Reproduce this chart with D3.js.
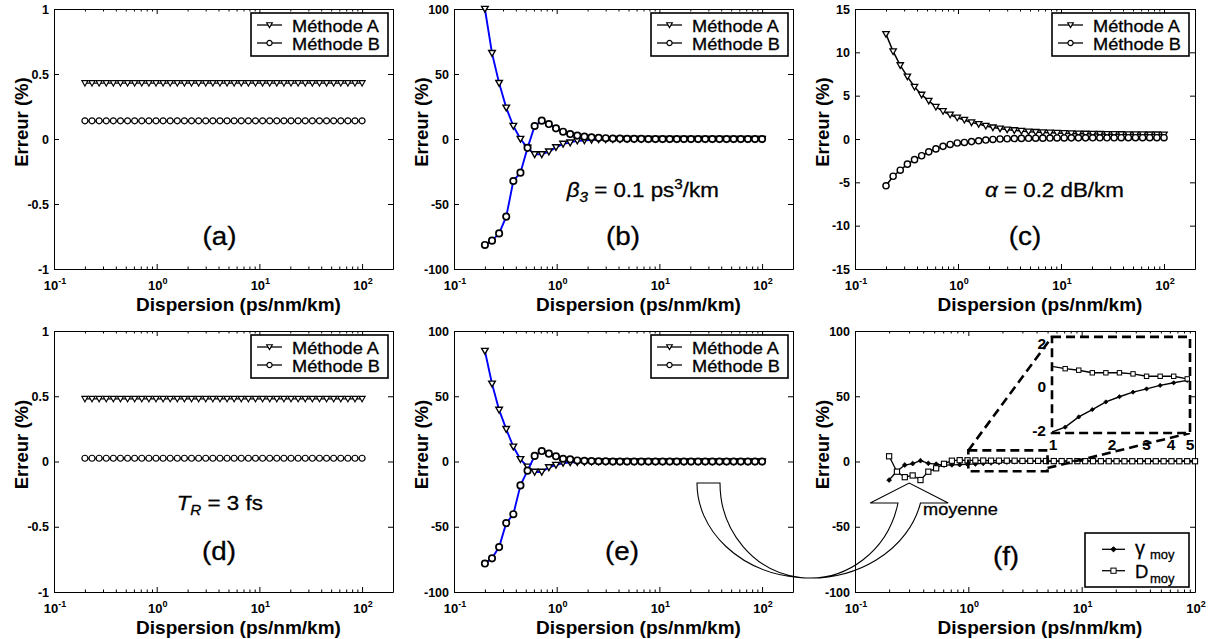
<!DOCTYPE html>
<html><head><meta charset="utf-8">
<script src="https://cdn.jsdelivr.net/npm/d3@7"></script>
<style>
body{margin:0;background:#fff}
svg{display:block;background:#fff}
text{font-family:"Liberation Sans",Arial,Helvetica,sans-serif}
</style>
</head><body>
<svg id="c" width="1211" height="639"></svg>
<script>
// ---------- DATA ----------
const dispersion = [0.2, 0.2345, 0.275, 0.3226, 0.3783, 0.4436, 0.5202, 0.6101, 0.7155, 0.8391,
  0.984, 1.154, 1.353, 1.587, 1.861, 2.183, 2.56, 3.002, 3.521, 4.129,
  4.842, 5.678, 6.659, 7.81, 9.159, 10.74, 12.6, 14.77, 17.33, 20.32,
  23.83, 27.95, 32.78, 38.44, 45.08, 52.87, 62.0, 72.71, 85.27, 100];

const aMethodeA = [0.43,0.43,0.43,0.43,0.43,0.43,0.43,0.43,0.43,0.43,0.43,0.43,0.43,0.43,0.43,0.43,0.43,0.43,0.43,0.43,
  0.43,0.43,0.43,0.43,0.43,0.43,0.43,0.43,0.43,0.43,0.43,0.43,0.43,0.43,0.43,0.43,0.43,0.43,0.43,0.43];
const aMethodeB = [0.14,0.14,0.14,0.14,0.14,0.14,0.14,0.14,0.14,0.14,0.14,0.14,0.14,0.14,0.14,0.14,0.14,0.14,0.14,0.14,
  0.14,0.14,0.14,0.14,0.14,0.14,0.14,0.14,0.14,0.14,0.14,0.14,0.14,0.14,0.14,0.14,0.14,0.14,0.14,0.14];

const bMethodeA = [100, 66, 43, 24, 10, 0, -6.8, -11.8, -11.8, -9.7, -6.4, -3.8, -2.8, -1.3, -1.1, -0.7, -0.4, -0.3, -0.2, -0.1,
  0,0,0,0,0,0,0,0,0,0,0,0,0,0,0,0,0,0,0,0];
const bMethodeB = [-81.5, -78.2, -72.6, -59.7, -32.3, -25.9, -6.8, 10, 14.1, 11.5, 8.2, 5.6, 3.8, 2.6, 1.8, 1.3, 0.9, 0.6, 0.4, 0.3,
  0.2, 0.1, 0.1, 0,0,0,0,0,0,0,0,0,0,0,0,0,0,0,0,0];

const cMethodeA = [12.1, 10.1, 8.5, 7.2, 6.0, 5.1, 4.4, 3.7, 3.2, 2.8, 2.45, 2.2, 1.9, 1.72, 1.5, 1.32, 1.2, 1.08, 1.0, 0.92,
  0.85, 0.8, 0.76, 0.72, 0.69, 0.66, 0.64, 0.62, 0.6, 0.58, 0.57, 0.56, 0.55, 0.54, 0.53, 0.52, 0.52, 0.51, 0.51, 0.5];
const cMethodeB = [-5.4, -4.3, -3.6, -2.9, -2.38, -1.93, -1.48, -1.14, -0.85, -0.63, -0.46, -0.4, -0.3, -0.21, -0.12, -0.05, 0, 0.03, 0.05, 0.07,
  0.08, 0.09, 0.1, 0.11, 0.12, 0.12, 0.13, 0.13, 0.13, 0.14, 0.14, 0.14, 0.14, 0.15, 0.15, 0.15, 0.15, 0.15, 0.15, 0.15];

const dMethodeA = [0.48,0.48,0.48,0.48,0.48,0.48,0.48,0.48,0.48,0.48,0.48,0.48,0.48,0.48,0.48,0.48,0.48,0.48,0.48,0.48,
  0.48,0.48,0.48,0.48,0.48,0.48,0.48,0.48,0.48,0.48,0.48,0.48,0.48,0.48,0.48,0.48,0.48,0.48,0.48,0.48];
const dMethodeB = [0.025,0.025,0.025,0.025,0.025,0.025,0.025,0.025,0.025,0.025,0.025,0.025,0.025,0.025,0.025,0.025,0.025,0.025,0.025,0.025,
  0.025,0.025,0.025,0.025,0.025,0.025,0.025,0.025,0.025,0.025,0.025,0.025,0.025,0.025,0.025,0.025,0.025,0.025,0.025,0.025];

const eMethodeA = [84.7, 59.6, 39.5, 24.8, 11.3, 1.7, -4, -8, -8, -4.5, -2.7, -1.2, -0.8, -0.5, -0.3, -0.2, -0.1, 0, 0, 0,
  0,0,0,0,0,0,0,0,0,0,0,0,0,0,0,0,0,0,0,0];
const eMethodeB = [-78.2, -74.2, -65.6, -47.2, -40.4, -18.3, -7, 4.3, 8, 6, 4, 2.1, 1.7, 0.8, 0.5, 0.3, 0.2, 0.1, 0, 0,
  0,0,0,0,0,0,0,0,0,0,0,0,0,0,0,0,0,0,0,0];

const fGammaMoy = [-14.2, -7.5, -2.7, -1.6, 0.6, -1.4, -2, -2.8, -2.6, -2.4, -2.1, -1.87, -1.4, -1.06, -0.71, -0.47, -0.26, -0.11, 0.05, 0.17,
  0.28, 0.34, 0.38, 0.41, 0.43, 0.45, 0.46, 0.47, 0.48, 0.48, 0.49, 0.49, 0.5, 0.5, 0.5, 0.5, 0.5, 0.5, 0.5, 0.5];
const fDMoy = [4, -7.8, -12, -10.7, -14.2, -7.8, -5.2, -1.8, 0.6, 1.0, 0.93, 0.82, 0.75, 0.63, 0.63, 0.63, 0.58, 0.47, 0.47, 0.47,
  0.35, 0.32, 0.3, 0.28, 0.26, 0.25, 0.24, 0.23, 0.22, 0.21, 0.2, 0.2, 0.2, 0.2, 0.2, 0.2, 0.2, 0.2, 0.2, 0.2];

const xTickExponents = [-1, 0, 1, 2];
const xTickExpLabels = ["-1", "0", "1", "2"];
const yTicksUnit = [-1, -0.5, 0, 0.5, 1];
const yLabelsUnit = ["-1", "-0.5", "0", "0.5", "1"];
const yTicksHundred = [-100, -50, 0, 50, 100];
const yLabelsHundred = ["-100", "-50", "0", "50", "100"];
const yTicksFifteen = [-15, -10, -5, 0, 5, 10, 15];
const yLabelsFifteen = ["-15", "-10", "-5", "0", "5", "10", "15"];
const insetXTicks = [1, 2, 3, 4, 5];
const insetXLabels = ["1", "2", "3", "4", "5"];
const insetYTicks = [-2, 0, 2];
const insetYLabels = ["-2", "0", "2"];
const legendAB = ["Méthode A", "Méthode B"];

// ---------- DRAW ----------
const svg = d3.select("#c");
const SX = 1.09;
const BLUE = "#0000ff";

function scaledText(parent, x, y, size, anchor) {
  const g = parent.append("g").attr("transform", `translate(${x},${y}) scale(${SX},1)`);
  return g.append("text").attr("font-size", size).attr("text-anchor", anchor || "start").attr("fill", "#000")
    .attr("stroke", "#000").attr("stroke-width", 0.3);
}

function marker(parent, type, cx, cy, s, sw) {
  let el;
  if (type === "tri") {
    el = parent.append("path").attr("d", `M${-s},${-s*0.8}L${s},${-s*0.8}L0,${s*0.95}Z`).attr("fill", "#fff").attr("stroke", "#000");
  } else if (type === "circ") {
    el = parent.append("circle").attr("r", s).attr("fill", "#fff").attr("stroke", "#000");
  } else if (type === "square") {
    el = parent.append("rect").attr("x", -s).attr("y", -s).attr("width", 2*s).attr("height", 2*s).attr("fill", "#fff").attr("stroke", "#000");
  } else {
    el = parent.append("path").attr("d", `M0,${-s}L${s},0L0,${s}L${-s},0Z`).attr("fill", "#000").attr("stroke", "#000");
  }
  el.attr("stroke-width", sw).attr("transform", `translate(${cx},${cy})`);
  return el;
}

function drawPanel(p) {
  const g = svg.append("g");
  const x = d3.scaleLog().domain(p.xDomain).range([p.left, p.right]);
  const y = d3.scaleLinear().domain(p.yDomain).range([p.bottom, p.top]);
  const majors = xTickExponents.map(e => Math.pow(10, e));
  const minors = [];
  xTickExponents.forEach(e => { for (let k = 2; k <= 9; k++) { const v = k * Math.pow(10, e); if (v <= p.xDomain[1]) minors.push(v); } });

  const styleAxis = sel => sel.attr("font-family", '"Liberation Sans",Arial,sans-serif').attr("font-size", 12.5).attr("font-weight", "bold");
  const noDomain = sel => sel.select(".domain").remove();

  g.append("g").attr("transform", `translate(0,${p.bottom})`).call(d3.axisBottom(x).tickValues(majors).tickSize(-5).tickSizeOuter(0).tickFormat(""));
  g.append("g").attr("transform", `translate(0,${p.bottom})`).call(d3.axisBottom(x).tickValues(minors).tickSize(-2.5).tickSizeOuter(0).tickFormat("")).call(noDomain);
  g.append("g").attr("transform", `translate(0,${p.top})`).call(d3.axisTop(x).tickValues(majors).tickSize(-5).tickSizeOuter(0).tickFormat(""));
  g.append("g").attr("transform", `translate(0,${p.top})`).call(d3.axisTop(x).tickValues(minors).tickSize(-2.5).tickSizeOuter(0).tickFormat("")).call(noDomain);
  g.append("g").attr("transform", `translate(${p.left},0)`).call(d3.axisLeft(y).tickValues(p.yTicks).tickSize(-5).tickSizeOuter(0).tickPadding(5).tickFormat((d, i) => p.yLabels[i])).call(styleAxis);
  g.append("g").attr("transform", `translate(${p.right},0)`).call(d3.axisRight(y).tickValues(p.yTicks).tickSize(-5).tickSizeOuter(0).tickFormat(""));

  // x tick labels 10^n
  majors.forEach((v, i) => {
    if (v > p.xDomain[1] * 1.0001) return;
    const t = g.append("text").attr("x", x(v) + 1).attr("y", p.bottom + 21).attr("text-anchor", "middle")
      .attr("font-weight", "bold").attr("font-size", 13);
    t.append("tspan").text("10");
    t.append("tspan").attr("dy", -6).attr("font-size", 9).text(xTickExpLabels[i]);
  });

  // axis titles
  g.append("text").attr("x", (p.left + p.right) / 2 + 15).attr("y", p.bottom + 42).attr("text-anchor", "middle")
    .attr("font-size", 19).attr("font-weight", "bold").text("Dispersion (ps/nm/km)");
  g.append("text").attr("transform", `translate(${p.left - 26},${(p.top + p.bottom) / 2 - 17}) rotate(-90)`)
    .attr("font-size", 18.5).attr("font-weight", "bold").attr("text-anchor", "middle").text("Erreur (%)");

  // series
  const line = d3.line().x((d, i) => x(dispersion[i])).y(d => y(d));
  p.series.forEach(s => {
    g.append("path").datum(s.values).attr("d", line).attr("fill", "none").attr("stroke", s.color).attr("stroke-width", s.lw).attr("stroke-linejoin", "round");
    s.values.forEach((v, i) => marker(g, s.marker, x(dispersion[i]), y(v), s.size, s.msw));
  });

  // legend
  if (p.legend) {
    const bx = p.left + 197, by = p.top + 4;
    g.append("rect").attr("x", bx).attr("y", by).attr("width", 137).attr("height", 43)
      .attr("fill", "#fff").attr("stroke", "#000").attr("stroke-width", 1.6);
    ["tri", "circ"].forEach((m, i) => {
      const ly = p.top + 16 + i * 18;
      g.append("line").attr("x1", p.left + 203).attr("x2", p.left + 228).attr("y1", ly).attr("y2", ly).attr("stroke", "#000").attr("stroke-width", 1.3);
      marker(g, m, p.left + 215.5, ly, m === "tri" ? 2.8 : 2.6, 1.2);
      scaledText(g, p.left + 238, ly + 6.5, 16.7).text(legendAB[i]);
    });
  }
  // panel label
  scaledText(g, p.labelX, p.labelY, 25.5, "middle").text(p.label);
  return {x, y, g};
}

const top0 = 9, bot0 = 269, top1 = 331, bot1 = 592;
const mk = (values, m, color, lw, size, msw) => ({values, marker: m, color, lw, size, msw});

const pa = drawPanel({left: 54, right: 393, top: top0, bottom: bot0, xDomain: [0.1, 200], yDomain: [-1, 1],
  yTicks: yTicksUnit, yLabels: yLabelsUnit, legend: true, label: "(a)", labelX: 219.5, labelY: 244.6,
  series: [mk(aMethodeA, "tri", "#000", 1.2, 3.1, 1.1), mk(aMethodeB, "circ", "#000", 1.2, 3.0, 1.2)]});
const pb = drawPanel({left: 454, right: 793, top: top0, bottom: bot0, xDomain: [0.1, 200], yDomain: [-100, 100],
  yTicks: yTicksHundred, yLabels: yLabelsHundred, legend: true, label: "(b)", labelX: 623, labelY: 244.6,
  series: [mk(bMethodeA, "tri", BLUE, 1.9, 3.3, 1.4), mk(bMethodeB, "circ", BLUE, 1.9, 3.2, 1.7)]});
const pc = drawPanel({left: 855, right: 1195, top: top0, bottom: bot0, xDomain: [0.1, 200], yDomain: [-15, 15],
  yTicks: yTicksFifteen, yLabels: yLabelsFifteen, legend: true, label: "(c)", labelX: 1025, labelY: 244.6,
  series: [mk(cMethodeA, "tri", "#000", 1.5, 3.2, 1.3), mk(cMethodeB, "circ", "#000", 1.5, 3.1, 1.4)]});
const pd = drawPanel({left: 54, right: 393, top: top1, bottom: bot1, xDomain: [0.1, 200], yDomain: [-1, 1],
  yTicks: yTicksUnit, yLabels: yLabelsUnit, legend: true, label: "(d)", labelX: 219, labelY: 559.6,
  series: [mk(dMethodeA, "tri", "#000", 1.2, 3.1, 1.1), mk(dMethodeB, "circ", "#000", 1.2, 3.0, 1.2)]});
const pe = drawPanel({left: 454, right: 793, top: top1, bottom: bot1, xDomain: [0.1, 200], yDomain: [-100, 100],
  yTicks: yTicksHundred, yLabels: yLabelsHundred, legend: true, label: "(e)", labelX: 622, labelY: 559.6,
  series: [mk(eMethodeA, "tri", BLUE, 1.9, 3.3, 1.4), mk(eMethodeB, "circ", BLUE, 1.9, 3.2, 1.7)]});
const pf = drawPanel({left: 855, right: 1195, top: top1, bottom: bot1, xDomain: [0.1, 100], yDomain: [-100, 100],
  yTicks: yTicksHundred, yLabels: yLabelsHundred, legend: false, label: "(f)", labelX: 1006, labelY: 564.6,
  series: [mk(fGammaMoy, "diamond", "#000", 1.3, 2.4, 0.8), mk(fDMoy, "square", "#000", 1.3, 2.6, 1.1)]});

// ---------- annotations ----------
{
  const t = scaledText(svg, 566.7, 196.7, 20.5);
  t.append("tspan").attr("font-style", "italic").text("β");
  t.append("tspan").attr("font-style", "italic").attr("font-size", 14).attr("dy", 5).text("3");
  t.append("tspan").attr("dy", -5).text(" = 0.1 ps");
  t.append("tspan").attr("font-size", 14).attr("dy", -8).text("3");
  t.append("tspan").attr("dy", 8).text("/km");
}
{
  const t = scaledText(svg, 985, 196.7, 20.5);
  t.append("tspan").attr("font-style", "italic").text("α");
  t.append("tspan").text(" = 0.2 dB/km");
}
{
  const t = scaledText(svg, 176.7, 510, 20.5);
  t.append("tspan").attr("font-style", "italic").text("T");
  t.append("tspan").attr("font-style", "italic").attr("font-size", 14).attr("dy", 5).text("R");
  t.append("tspan").attr("dy", -5).text(" = 3 fs");
}

// ---------- (f) zoom box + inset ----------
{
  const fx = pf.x, fy = pf.y;
  const dash = "9,5", dw = 2.6;
  const box = {x0: fx(1), x1: fx(5), y0: fy(8.5), y1: fy(-7.5)};
  svg.append("rect").attr("x", box.x0).attr("y", box.y0).attr("width", box.x1 - box.x0).attr("height", box.y1 - box.y0)
    .attr("fill", "none").attr("stroke", "#000").attr("stroke-width", dw).attr("stroke-dasharray", dash);

  const ix = d3.scaleLog().domain([1, 5]).range([1053, 1190]);
  const iy = d3.scaleLinear().domain([-2, 2]).range([430, 343]);
  const fr = {x0: ix(1) - 1, x1: ix(5), y0: iy(2.28), y1: iy(-2.14)};

  svg.append("line").attr("x1", box.x0).attr("y1", box.y0).attr("x2", fr.x0).attr("y2", fr.y0)
    .attr("stroke", "#000").attr("stroke-width", dw).attr("stroke-dasharray", dash);
  svg.append("line").attr("x1", box.x1).attr("y1", fy(-5)).attr("x2", fr.x1).attr("y2", fr.y1)
    .attr("stroke", "#000").attr("stroke-width", dw).attr("stroke-dasharray", dash);

  svg.append("rect").attr("x", fr.x0).attr("y", fr.y0).attr("width", fr.x1 - fr.x0).attr("height", fr.y1 - fr.y0)
    .attr("fill", "#fff").attr("stroke", "none");
  svg.append("clipPath").attr("id", "insetClip").append("rect")
    .attr("x", fr.x0).attr("y", fr.y0).attr("width", fr.x1 - fr.x0).attr("height", fr.y1 - fr.y0);
  const ig = svg.append("g").attr("clip-path", "url(#insetClip)");
  const iline = d3.line().x((d, i) => ix(dispersion[i])).y(d => iy(d));
  [[fGammaMoy, "diamond", 2.1, 0.8], [fDMoy, "square", 2.2, 1.0]].forEach(([vals, m, s, sw]) => {
    ig.append("path").datum(vals).attr("d", iline).attr("fill", "none").attr("stroke", "#000").attr("stroke-width", 1.4);
    vals.forEach((v, i) => { if (dispersion[i] >= 1 && dispersion[i] <= 5) marker(ig, m, ix(dispersion[i]), iy(v), s, sw); });
  });
  svg.append("rect").attr("x", fr.x0).attr("y", fr.y0).attr("width", fr.x1 - fr.x0).attr("height", fr.y1 - fr.y0)
    .attr("fill", "none").attr("stroke", "#000").attr("stroke-width", dw).attr("stroke-dasharray", dash);

  insetYTicks.forEach((v, i) => svg.append("text").attr("x", fr.x0 - 6).attr("y", iy(v)).attr("dy", "0.36em")
    .attr("text-anchor", "end").attr("font-size", 15.5).attr("font-weight", "bold").text(insetYLabels[i]));
  insetXTicks.forEach((v, i) => svg.append("text").attr("x", ix(v)).attr("y", fr.y1 + 17)
    .attr("text-anchor", "middle").attr("font-size", 15.5).attr("font-weight", "bold").text(insetXLabels[i]));

  svg.append("rect").attr("x", 1085).attr("y", 533).attr("width", 104).attr("height", 54)
    .attr("fill", "#fff").attr("stroke", "#000").attr("stroke-width", 1.6);
  [[549.3, "diamond"], [570.7, "square"]].forEach(([ly, m]) => {
    svg.append("line").attr("x1", 1102).attr("x2", 1125).attr("y1", ly).attr("y2", ly).attr("stroke", "#000").attr("stroke-width", 1.3);
    marker(svg, m, 1113.5, ly, 2.6, 1);
  });
  const g1 = svg.append("text").attr("x", 1135).attr("y", 555).attr("font-size", 20).attr("stroke", "#000").attr("stroke-width", 0.3);
  g1.append("tspan").text("γ");
  g1.append("tspan").attr("x", 1150).attr("dy", 4).attr("font-size", 13).text("moy");
  const g2 = svg.append("text").attr("x", 1135).attr("y", 578.3).attr("font-size", 18.5).attr("stroke", "#000").attr("stroke-width", 0.3);
  g2.append("tspan").text("D");
  g2.append("tspan").attr("x", 1150).attr("dy", 4.5).attr("font-size", 13).text("moy");

  scaledText(svg, 923, 515, 16.7).text("moyenne");
}

// ---------- curved arrow from (e) to (f) ----------
{
  const cx = 810, cy = 483, ry = 95, rxO = 113, rxI = 90, endY = 503, headHalf = 39, tipY = 483;
  const k = Math.sqrt(1 - Math.pow((endY - cy) / ry, 2));
  const xo = cx + rxO * k, xi = cx + rxI * k, hc = (xo + xi) / 2;
  const d = `M${cx - rxO},${cy} A${rxO},${ry} 0 0 0 ${xo},${endY} L${hc + headHalf},${endY} L${hc},${tipY} L${hc - headHalf},${endY} L${xi},${endY} A${rxI},${ry} 0 0 1 ${cx - rxI},${cy} Z`;
  svg.append("path").attr("d", d).attr("fill", "none").attr("stroke", "#000").attr("stroke-width", 1.1);
}
</script>
</body></html>
